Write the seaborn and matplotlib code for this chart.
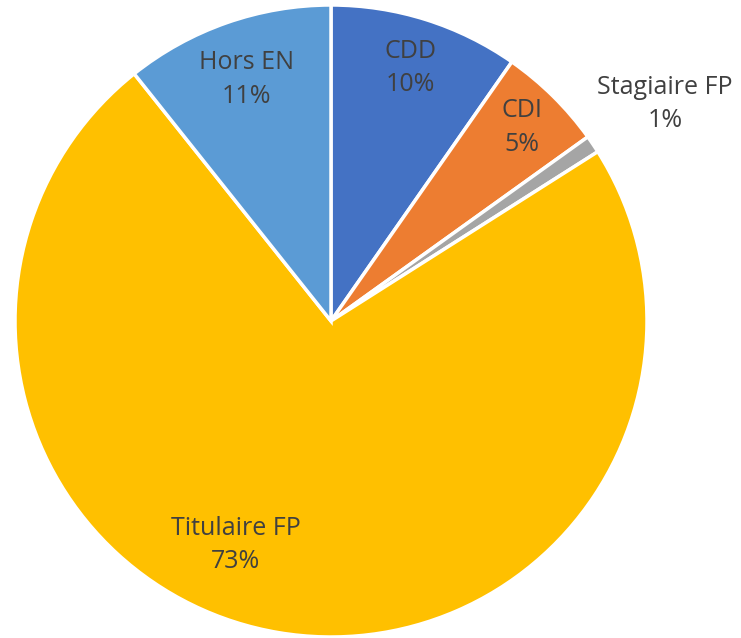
import numpy as np
import matplotlib.pyplot as plt
import seaborn as sns

sns.set_theme(style='white')
plt.rcParams['font.family'] = ['Open Sans', 'DejaVu Sans']

# Data (clockwise from 12 o'clock)
labels = ['CDD', 'CDI', 'Stagiaire FP', 'Titulaire FP', 'Hors EN']
values = [9.7, 5.4, 0.9, 73.3, 10.7]
pct_text = ['10%', '5%', '1%', '73%', '11%']
colors = ['#4472C4', '#ED7D31', '#A5A5A5', '#FFC000', '#5B9BD5']
# label placement: radius fraction and angle shift (deg) from wedge middle
label_radius = [0.84, 0.86, 1.26, 0.77, 0.81]
label_shift = [0, 0, -1, -13.5, 0]

fig = plt.figure(figsize=(7.41, 6.38), dpi=100)
ax = fig.add_axes([15 / 741, 1 / 638, 632 / 741, 632 / 638])

wedges, _ = ax.pie(values, colors=colors, startangle=90, counterclock=False,
                   radius=1, wedgeprops=dict(edgecolor='white', linewidth=2.5))
ax.set_xlim(-1, 1)
ax.set_ylim(-1, 1)
ax.set_aspect('equal')
ax.axis('off')

for w, lab, pct, r, sh in zip(wedges, labels, pct_text, label_radius, label_shift):
    mid = np.deg2rad((w.theta1 + w.theta2) / 2 + sh)
    ax.text(r * np.cos(mid), r * np.sin(mid), f'{lab}\n{pct}',
            ha='center', va='center', fontsize=18, color='#404040',
            linespacing=1.45, clip_on=False)

fig.savefig('out.png', dpi=100, facecolor='white')
